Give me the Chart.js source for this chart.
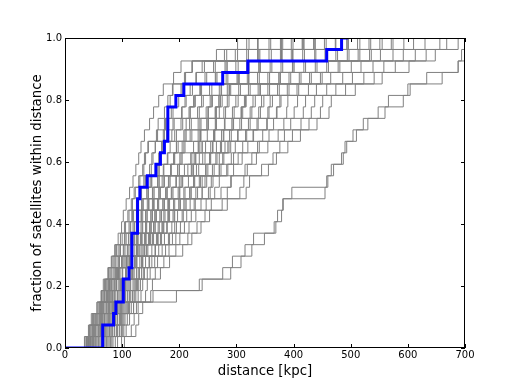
<!DOCTYPE html>
<html>
<head>
<meta charset="utf-8">
<script src="https://cdn.jsdelivr.net/npm/chart.js@4.4.0/dist/chart.umd.min.js"></script>
<style>
  html, body { margin: 0; padding: 0; background: #fff; }
  #wrap { width: 518px; height: 387px; position: relative; }
</style>
</head>
<body>
<div id="wrap"><canvas id="cdf"></canvas></div>
<script>
// satellites per host, axis range and tick labels
const N_SAT = 27;
const X_MAX = 700;
const xTickVals = [0, 100, 200, 300, 400, 500, 600, 700];
const yTickVals = [0, 0.2, 0.4, 0.6, 0.8, 1.0];

// observed system (blue), sorted satellite distances in kpc
const blueDist = [66, 66, 85, 89, 102, 102, 112, 117, 117, 117, 127, 127, 127, 131, 144,
  159, 167, 174, 180, 180, 180, 194, 208, 276, 320, 458, 484];
const blueEnd = 495;

// simulated systems (grey), sorted satellite distances in kpc (> 700 = off the plot)
const g01 = [35, 41, 46, 56, 63, 67, 75, 81, 87, 97, 104, 112, 116, 123, 131, 136, 141, 146, 162, 176, 186, 199, 205, 230, 244, 298, 337];
const g02 = [38, 43, 52, 58, 65, 71, 77, 84, 90, 93, 99, 102, 107, 113, 119, 124, 129, 133, 139, 148, 155, 164, 172, 190, 203, 265, 302];
const g03 = [41, 48, 56, 62, 72, 76, 84, 91, 97, 111, 121, 126, 137, 143, 152, 160, 167, 171, 195, 203, 219, 228, 236, 263, 284, 337, 381];
const g04 = [44, 52, 60, 66, 74, 82, 88, 95, 102, 105, 114, 118, 127, 132, 141, 148, 154, 158, 160, 163, 174, 180, 188, 211, 223, 279, 322];
const g05 = [48, 56, 64, 70, 80, 86, 93, 100, 109, 125, 135, 144, 153, 165, 174, 185, 191, 198, 219, 236, 247, 258, 270, 305, 318, 380, 415];
const g06 = [52, 60, 68, 75, 84, 90, 96, 107, 115, 119, 128, 134, 146, 154, 163, 173, 179, 184, 187, 191, 204, 210, 223, 245, 263, 318, 360];
const g07 = [54, 66, 72, 79, 89, 95, 101, 112, 121, 139, 151, 158, 174, 186, 195, 209, 222, 240, 260, 280, 293, 303, 321, 358, 378, 439, 473];
const g08 = [59, 70, 74, 85, 92, 99, 106, 117, 127, 132, 143, 150, 164, 176, 184, 197, 203, 210, 212, 218, 235, 239, 257, 282, 303, 357, 399];
const g09 = [63, 73, 80, 87, 98, 101, 112, 123, 133, 153, 165, 173, 192, 208, 216, 234, 241, 246, 274, 295, 308, 317, 338, 377, 398, 458, 493];
const g10 = [66, 77, 84, 91, 102, 106, 116, 126, 139, 146, 158, 166, 183, 198, 206, 222, 228, 236, 238, 250, 263, 272, 287, 322, 339, 399, 435];
const g11 = [70, 81, 88, 95, 106, 110, 121, 131, 145, 167, 179, 189, 210, 229, 237, 258, 266, 272, 302, 324, 339, 348, 372, 413, 438, 497, 532];
const g12 = [73, 86, 92, 99, 110, 115, 125, 136, 152, 160, 172, 181, 201, 219, 227, 246, 253, 259, 262, 265, 278, 287, 304, 340, 359, 419, 454];
const g13 = [77, 90, 97, 103, 115, 119, 130, 141, 158, 181, 195, 205, 228, 251, 259, 283, 291, 298, 329, 354, 370, 378, 406, 450, 478, 536, 571];
const g14 = [80, 95, 101, 107, 119, 123, 134, 147, 164, 174, 187, 197, 219, 240, 248, 270, 278, 285, 288, 309, 324, 333, 355, 395, 418, 477, 512];
const g15 = [84, 99, 105, 111, 124, 127, 139, 152, 170, 188, 202, 213, 238, 262, 270, 295, 303, 311, 316, 338, 355, 363, 389, 431, 458, 516, 551];
const g16 = [88, 103, 109, 116, 128, 132, 144, 157, 176, 201, 217, 229, 256, 284, 291, 319, 327, 337, 357, 383, 401, 407, 440, 486, 518, 574, 610];
const g17 = [92, 107, 113, 120, 133, 136, 149, 162, 182, 194, 209, 221, 247, 273, 290, 315, 335, 355, 384, 413, 431, 437, 474, 523, 558, 613, 656];
const g18 = [99, 116, 121, 128, 141, 144, 158, 173, 194, 215, 231, 245, 275, 306, 313, 344, 370, 390, 412, 441, 462, 466, 508, 555, 602, 648, 688];
const g19 = [104, 124, 129, 136, 150, 153, 167, 183, 206, 222, 238, 253, 284, 317, 323, 356, 364, 376, 398, 427, 447, 451, 491, 541, 578, 632, 668];
const g20 = [37, 45, 50, 60, 67, 73, 79, 86, 93, 121, 126, 136, 144, 156, 165, 185, 205, 225, 249, 263, 281, 284, 307, 337, 362, 416, 457];
const g21 = [39, 50, 54, 64, 70, 78, 86, 100, 118, 141, 148, 160, 171, 189, 200, 225, 245, 265, 291, 306, 327, 329, 358, 392, 421, 474, 516];
const g22 = [43, 54, 58, 68, 76, 80, 90, 108, 128, 155, 163, 175, 190, 210, 225, 250, 270, 290, 318, 336, 357, 359, 392, 428, 461, 513, 555];
const g23 = [46, 58, 62, 72, 78, 84, 96, 115, 135, 162, 170, 183, 199, 221, 240, 270, 295, 320, 346, 365, 388, 390, 426, 465, 501, 552, 593];
const g24 = [50, 62, 66, 76, 83, 89, 93, 99, 103, 107, 112, 120, 125, 134, 138, 151, 152, 158, 192, 206, 217, 227, 239, 264, 282, 339, 379];
const g25 = [56, 64, 70, 81, 87, 93, 100, 105, 110, 114, 119, 128, 134, 145, 149, 163, 164, 169, 172, 174, 189, 195, 203, 229, 240, 302, 338];
const g26 = [58, 70, 76, 83, 93, 97, 107, 122, 142, 169, 178, 191, 208, 232, 235, 261, 264, 274, 277, 292, 311, 314, 341, 374, 401, 455, 496];
const g27 = [61, 75, 78, 89, 96, 103, 108, 113, 117, 122, 128, 133, 147, 153, 162, 172, 190, 205, 222, 233, 250, 254, 273, 301, 322, 377, 418];
const g28 = [65, 79, 82, 93, 100, 107, 115, 135, 158, 183, 192, 207, 226, 254, 256, 285, 310, 340, 373, 395, 417, 421, 458, 503, 539, 592, 630];
const g29 = [68, 83, 86, 97, 104, 112, 119, 125, 130, 134, 141, 152, 162, 178, 181, 200, 201, 208, 210, 212, 219, 225, 237, 266, 280, 341, 377];
const g30 = [72, 87, 91, 101, 109, 114, 118, 122, 125, 127, 133, 142, 155, 167, 170, 200, 220, 240, 261, 279, 296, 299, 324, 355, 381, 437, 474];
const g31 = [75, 92, 95, 105, 113, 121, 128, 136, 143, 148, 156, 168, 181, 200, 203, 224, 226, 234, 237, 248, 265, 269, 290, 319, 342, 396, 438];
const g32 = [79, 96, 99, 109, 118, 125, 130, 134, 138, 142, 150, 157, 173, 187, 194, 230, 255, 280, 303, 321, 342, 344, 375, 410, 441, 494, 535];
const g33 = [82, 101, 103, 113, 122, 129, 137, 148, 158, 163, 173, 180, 202, 218, 226, 247, 254, 258, 262, 264, 270, 275, 284, 303, 320, 379, 416];
const g34 = [45, 53, 61, 67, 74, 81, 89, 94, 105, 135, 142, 153, 163, 179, 182, 215, 235, 255, 278, 294, 309, 316, 342, 376, 399, 457, 494];
const g35 = [34, 42, 48, 56, 64, 69, 76, 82, 88, 104, 115, 117, 128, 131, 140, 165, 180, 195, 208, 221, 232, 242, 253, 285, 299, 361, 396];
const g36 = [38, 47, 54, 61, 69, 75, 81, 88, 96, 128, 136, 141, 156, 164, 173, 186, 192, 195, 233, 251, 263, 271, 288, 321, 340, 398, 437];
const g37 = [49, 59, 65, 73, 81, 87, 94, 103, 125, 149, 155, 169, 180, 201, 205, 221, 229, 233, 236, 238, 251, 256, 274, 303, 320, 379, 418];
const g38 = [54, 63, 69, 78, 86, 90, 93, 95, 97, 100, 106, 110, 118, 121, 129, 138, 139, 145, 178, 189, 205, 212, 219, 248, 260, 321, 357];
const g39 = [64, 78, 84, 92, 100, 104, 107, 110, 112, 115, 122, 125, 136, 146, 151, 161, 166, 172, 174, 177, 180, 184, 189, 209, 222, 283, 318];
const g40 = [41, 51, 56, 65, 73, 78, 92, 108, 125, 150, 170, 192, 212, 240, 245, 273, 276, 287, 330, 353, 371, 376, 409, 447, 481, 533, 574];
// the two slow systems trailing off to the lower right
const g41 = [40, 62, 88, 120, 195, 235, 276, 293, 315, 330, 366, 372, 382, 397, 458, 466, 484, 493, 504, 522, 548, 566, 604, 633, 688, 740, 790];
const g42 = [45, 70, 96, 125, 154, 240, 290, 308, 327, 349, 369, 379, 381, 455, 460, 470, 487, 490, 510, 530, 560, 592, 600, 660, 688, 694, 760];

const grayRuns = [g01, g02, g03, g04, g05, g06, g07, g08, g09, g10, g11, g12, g13, g14,
  g15, g16, g17, g18, g19, g20, g21, g22, g23, g24, g25, g26, g27, g28, g29, g30, g31,
  g32, g33, g34, g35, g36, g37, g38, g39, g40, g41, g42];

// cumulative step points: (0,0), then one step per satellite, held to the end
function toSteps(dist, end) {
  const pts = [{ x: 0, y: 0 }];
  let count = 0;
  dist.forEach(d => {
    if (d > X_MAX) return;
    count++;
    pts.push({ x: d, y: count / N_SAT });
  });
  pts.push({ x: end, y: count / N_SAT });
  return pts;
}

const FONT = "'DejaVu Sans', 'Liberation Sans', sans-serif";

// black box with inward ticks on all four sides, drawn over the lines
const frameTicks = {
  id: 'frameTicks',
  afterDatasetsDraw(chart) {
    const { ctx, chartArea: a, scales: { x, y } } = chart;
    const len = 4;
    ctx.save();
    ctx.strokeStyle = '#000';
    ctx.lineWidth = 1;
    ctx.strokeRect(a.left + 0.5, a.top + 0.5, a.right - a.left - 1, a.bottom - a.top - 1);
    ctx.beginPath();
    x.ticks.forEach(t => {
      const px = Math.round(x.getPixelForValue(t.value)) + 0.5;
      ctx.moveTo(px, a.bottom); ctx.lineTo(px, a.bottom - len);
      ctx.moveTo(px, a.top); ctx.lineTo(px, a.top + len);
    });
    y.ticks.forEach(t => {
      const py = Math.round(y.getPixelForValue(t.value)) + 0.5;
      ctx.moveTo(a.left, py); ctx.lineTo(a.left + len, py);
      ctx.moveTo(a.right, py); ctx.lineTo(a.right - len, py);
    });
    ctx.stroke();
    ctx.restore();
  }
};

const datasets = [{
  label: 'observed',
  data: toSteps(blueDist, blueEnd),
  borderColor: '#0000ff',
  borderWidth: 3,
  stepped: 'before',
  pointRadius: 0,
  fill: false
}];
grayRuns.forEach((run, i) => {
  datasets.push({
    label: 'sim ' + (i + 1),
    data: toSteps(run, X_MAX),
    borderColor: '#808080',
    borderWidth: 1,
    stepped: 'before',
    pointRadius: 0,
    fill: false
  });
});

new Chart(document.getElementById('cdf'), {
  type: 'line',
  data: { datasets },
  options: {
    responsive: true,
    maintainAspectRatio: false,
    animation: false,
    events: [],
    layout: { padding: { left: 0, right: 53, top: 38, bottom: 0 } },
    plugins: { legend: { display: false }, tooltip: { enabled: false } },
    scales: {
      x: {
        type: 'linear',
        min: 0,
        max: X_MAX,
        afterBuildTicks: s => { s.ticks = xTickVals.map(v => ({ value: v })); },
        afterFit: s => { s.height = 39; },
        grid: { display: false, drawTicks: false, tickLength: 0 },
        border: { display: false },
        ticks: {
          color: '#000',
          padding: 1,
          maxRotation: 0,
          font: { family: FONT, size: 10 },
          callback: v => String(v)
        },
        title: {
          display: true,
          text: 'distance [kpc]',
          color: '#000',
          font: { family: FONT, size: 13.3 },
          padding: { top: 0, bottom: 7 }
        }
      },
      y: {
        type: 'linear',
        min: 0,
        max: 1,
        afterBuildTicks: s => { s.ticks = yTickVals.map(v => ({ value: v })); },
        afterFit: s => { s.width = 65; },
        grid: { display: false, drawTicks: false, tickLength: 0 },
        border: { display: false },
        ticks: {
          color: '#000',
          padding: 3,
          font: { family: FONT, size: 10 },
          callback: v => v.toFixed(1)
        },
        title: {
          display: true,
          text: 'fraction of satellites within distance',
          color: '#000',
          font: { family: FONT, size: 13.3 },
          padding: { top: 30, bottom: 0 }
        }
      }
    }
  },
  plugins: [frameTicks]
});
</script>
</body>
</html>
